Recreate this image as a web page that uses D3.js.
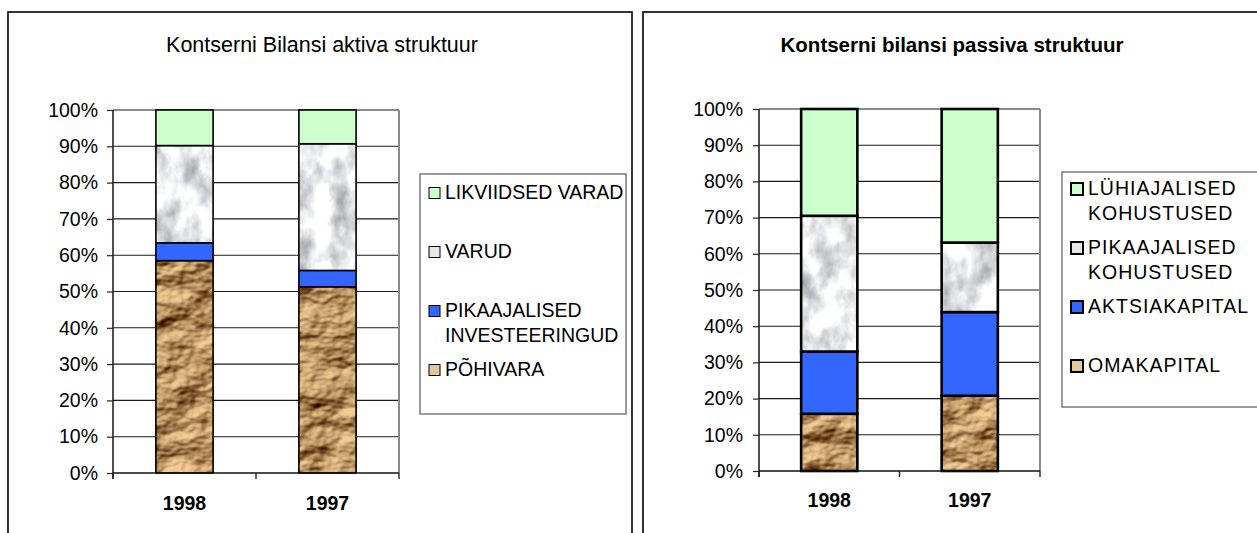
<!DOCTYPE html>
<html><head><meta charset="utf-8">
<script src="https://cdn.jsdelivr.net/npm/d3@7"></script>
<style>
html,body{margin:0;padding:0;background:#fff;}
svg{display:block;font-family:"Liberation Sans",Arial,sans-serif;}
</style></head><body>
<svg id="chart" width="1257" height="533"></svg>
<script>
// ---------- DATA ----------
const categories = ["1998", "1997"];
const yTicks = [0, 10, 20, 30, 40, 50, 60, 70, 80, 90, 100];
const yTickLabels = ["0%", "10%", "20%", "30%", "40%", "50%", "60%", "70%", "80%", "90%", "100%"];

const aktivaTitle = "Kontserni Bilansi aktiva struktuur";
// stack order bottom -> top
const aktivaSeries = ["PÕHIVARA", "PIKAAJALISED INVESTEERINGUD", "VARUD", "LIKVIIDSED VARAD"];
const pohivara = [58.5, 51.3];
const pikaajalisedInvesteeringud = [4.9, 4.5];
const varud = [26.8, 34.9];
const likviidsedVarad = [9.8, 9.3];
// legend (top -> bottom), lines per entry
const aktivaLegend = [["LIKVIIDSED VARAD"], ["VARUD"], ["PIKAAJALISED", "INVESTEERINGUD"], ["PÕHIVARA"]];

const passivaTitle = "Kontserni bilansi passiva struktuur";
const passivaSeries = ["OMAKAPITAL", "AKTSIAKAPITAL", "PIKAAJALISED KOHUSTUSED", "LÜHIAJALISED KOHUSTUSED"];
const omakapital = [15.8, 20.8];
const aktsiakapital = [17.2, 23.1];
const pikaajalisedKohustused = [37.5, 19.2];
const luhiajalisedKohustused = [29.5, 36.9];
const passivaLegend = [["LÜHIAJALISED", "KOHUSTUSED"], ["PIKAAJALISED", "KOHUSTUSED"], ["AKTSIAKAPITAL"], ["OMAKAPITAL"]];

// ---------- STYLES ----------
const fills = ["#C29969", "#3366FF", "#E2E3E6", "#CCFFCC"]; // per stack level
const swatchFills = ["#E2C7A2", "#3366FF", "#E6E7E9", "#CCFFCC"];

const svg = d3.select("#chart");
const defs = svg.append("defs");

// crumpled brown paper: noise -> diffuse lighting -> colourise
(function () {
  const f = defs.append("filter").attr("id", "brownTex")
    .attr("x", 0).attr("y", 0).attr("width", 1).attr("height", 1)
    .attr("color-interpolation-filters", "sRGB");
  f.append("feTurbulence").attr("type", "fractalNoise")
    .attr("baseFrequency", "0.022 0.032").attr("numOctaves", 4).attr("seed", 11).attr("result", "n");
  const dl = f.append("feDiffuseLighting").attr("in", "n").attr("surfaceScale", 8)
    .attr("diffuseConstant", 1.05).attr("lighting-color", "#fff").attr("result", "lit");
  dl.append("feDistantLight").attr("azimuth", 235).attr("elevation", 45);
  f.append("feColorMatrix").attr("in", "lit").attr("type", "matrix")
    .attr("values", "0.82 0 0 0 0.13  0.82 0 0 0 -0.02  0.72 0 0 0 -0.14  0 0 0 0 1");
})();
// grey marble
(function () {
  const f = defs.append("filter").attr("id", "marbleTex")
    .attr("x", 0).attr("y", 0).attr("width", 1).attr("height", 1)
    .attr("color-interpolation-filters", "sRGB");
  f.append("feTurbulence").attr("type", "fractalNoise")
    .attr("baseFrequency", "0.045 0.03").attr("numOctaves", 4).attr("seed", 5).attr("result", "n");
  f.append("feColorMatrix").attr("in", "n").attr("type", "matrix")
    .attr("values", "0.8 0 0 0 0.5  0.8 0 0 0 0.505  0.76 0 0 0 0.535  0 0 0 0 1");
})();

// ---------- CHART ----------
function drawChart(cfg) {
  const g = svg.append("g");
  // frame
  g.append("rect").attr("x", cfg.frame[0]).attr("y", cfg.frame[1])
    .attr("width", cfg.frame[2]).attr("height", cfg.frame[3])
    .attr("fill", "#fff").attr("stroke", "#000").attr("stroke-width", 1.6);

  // title
  g.append("text").attr("x", cfg.titleX).attr("y", cfg.titleY)
    .attr("text-anchor", "middle").attr("font-size", cfg.titleSize)
    .attr("font-weight", cfg.titleBold ? "bold" : "normal")
    .attr("fill", "#000").text(cfg.title);

  const p = cfg.plot;
  const y = d3.scaleLinear().domain([0, 100]).range([p.bottom, p.top]);
  const x = d3.scaleBand().domain(categories).range([p.left, p.right]).padding(0);
  const bw = x.bandwidth() * 0.4;

  // gridlines
  g.append("g").selectAll("line").data(yTicks.filter(t => t > 0 && t < 100)).join("line")
    .attr("x1", p.left).attr("x2", p.right).attr("y1", d => y(d)).attr("y2", d => y(d))
    .attr("stroke", "#1a1a1a").attr("stroke-width", 1.1);
  // top & right plot border
  g.append("line").attr("x1", p.left).attr("x2", p.right).attr("y1", y(100)).attr("y2", y(100))
    .attr("stroke", "#8a8a8a").attr("stroke-width", 2);
  g.append("line").attr("x1", p.right).attr("x2", p.right).attr("y1", y(100)).attr("y2", y(0))
    .attr("stroke", "#8a8a8a").attr("stroke-width", 2);

  // stacked bars
  const rows = categories.map((c, i) => {
    const r = { cat: c };
    cfg.series.forEach((s, k) => r[s] = cfg.values[k][i]);
    return r;
  });
  const stacked = d3.stack().keys(cfg.series)(rows);
  stacked.forEach((layer, k) => {
    const lg = g.append("g");
    const texture = cfg.textures[k];
    lg.selectAll("rect.fill").data(layer).join("rect").attr("class", "fill")
      .attr("x", d => x(d.data.cat) + x.bandwidth() * 0.3)
      .attr("y", d => y(d[1])).attr("width", bw).attr("height", d => y(d[0]) - y(d[1]))
      .attr("fill", fills[k])
      .attr("filter", texture ? `url(#${texture})` : null);
    lg.selectAll("rect.out").data(layer).join("rect").attr("class", "out")
      .attr("x", d => x(d.data.cat) + x.bandwidth() * 0.3)
      .attr("y", d => y(d[1])).attr("width", bw).attr("height", d => y(d[0]) - y(d[1]))
      .attr("fill", "none").attr("stroke", "#000").attr("stroke-width", cfg.barStroke);
  });

  // y axis
  const ya = g.append("g").attr("transform", `translate(${p.left},0)`)
    .call(d3.axisLeft(y).tickValues(yTicks).tickSize(6).tickPadding(cfg.yPad)
      .tickFormat((d, i) => yTickLabels[i]));
  ya.select(".domain").remove();
  ya.selectAll(".tick line").attr("stroke", "#222").attr("stroke-width", 1.2);
  ya.selectAll("text").attr("font-size", 19.5).attr("fill", "#000")
    .attr("font-family", "'Liberation Sans',Arial,sans-serif");
  g.append("line").attr("x1", p.left).attr("x2", p.left).attr("y1", y(100)).attr("y2", y(0) + 6)
    .attr("stroke", "#222").attr("stroke-width", 1.6);

  // x axis
  g.append("line").attr("x1", p.left).attr("x2", p.right).attr("y1", y(0)).attr("y2", y(0))
    .attr("stroke", "#111").attr("stroke-width", 1.4);
  const bounds = categories.map(c => x(c)).concat([p.right]);
  g.append("g").selectAll("line").data(bounds).join("line")
    .attr("x1", d => d).attr("x2", d => d).attr("y1", y(0)).attr("y2", y(0) + 6)
    .attr("stroke", "#222").attr("stroke-width", 1.4);
  const xa = g.append("g").attr("transform", `translate(0,${y(0)})`)
    .call(d3.axisBottom(x).tickSize(0).tickPadding(cfg.xPad));
  xa.select(".domain").remove();
  xa.selectAll("text").attr("font-size", 19.5).attr("font-weight", "bold").attr("fill", "#000")
    .attr("font-family", "'Liberation Sans',Arial,sans-serif");

  // legend
  const L = cfg.legend;
  g.append("rect").attr("x", L.x).attr("y", L.y).attr("width", L.w).attr("height", L.h)
    .attr("fill", "#fff").attr("stroke", "#7a7a7a").attr("stroke-width", 1.5);
  const n = cfg.series.length;
  cfg.legendLines.forEach((lines, i) => {
    const k = n - 1 - i;
    const cy = L.first + i * L.step;
    g.append("rect").attr("x", L.sx).attr("y", cy - L.ss / 2 + 1).attr("width", L.ss).attr("height", L.ss)
      .attr("fill", swatchFills[k]).attr("stroke", "#000").attr("stroke-width", L.sstroke);
    lines.forEach((ln, j) => {
      g.append("text").attr("x", L.tx).attr("y", cy + j * 25).attr("dy", "0.35em")
        .attr("font-size", 19.5).attr("letter-spacing", L.ls).attr("fill", "#000").text(ln);
    });
  });
}

drawChart({
  frame: [8, 12, 624, 540],
  title: aktivaTitle, titleX: 322, titleY: 52, titleSize: 21.5, titleBold: false,
  plot: { left: 113, right: 399, top: 110, bottom: 473 },
  series: aktivaSeries,
  values: [pohivara, pikaajalisedInvesteeringud, varud, likviidsedVarad],
  textures: ["brownTex", null, "marbleTex", null],
  barStroke: 1.6, yPad: 9, xPad: 23,
  legend: { x: 420, y: 174, w: 206, h: 240, first: 192, step: 59, sx: 429, ss: 11, sstroke: 1, tx: 445, ls: 0 },
  legendLines: aktivaLegend
});

drawChart({
  frame: [643, 12, 640, 540],
  title: passivaTitle, titleX: 952, titleY: 52, titleSize: 20.5, titleBold: true,
  plot: { left: 759, right: 1040, top: 109, bottom: 471 },
  series: passivaSeries,
  values: [omakapital, aktsiakapital, pikaajalisedKohustused, luhiajalisedKohustused],
  textures: ["brownTex", null, "marbleTex", null],
  barStroke: 2.6, yPad: 10, xPad: 22,
  legend: { x: 1062, y: 172, w: 220, h: 235, first: 188, step: 59, sx: 1071, ss: 12, sstroke: 2, tx: 1088, ls: 1 },
  legendLines: passivaLegend
});
</script>
</body></html>
